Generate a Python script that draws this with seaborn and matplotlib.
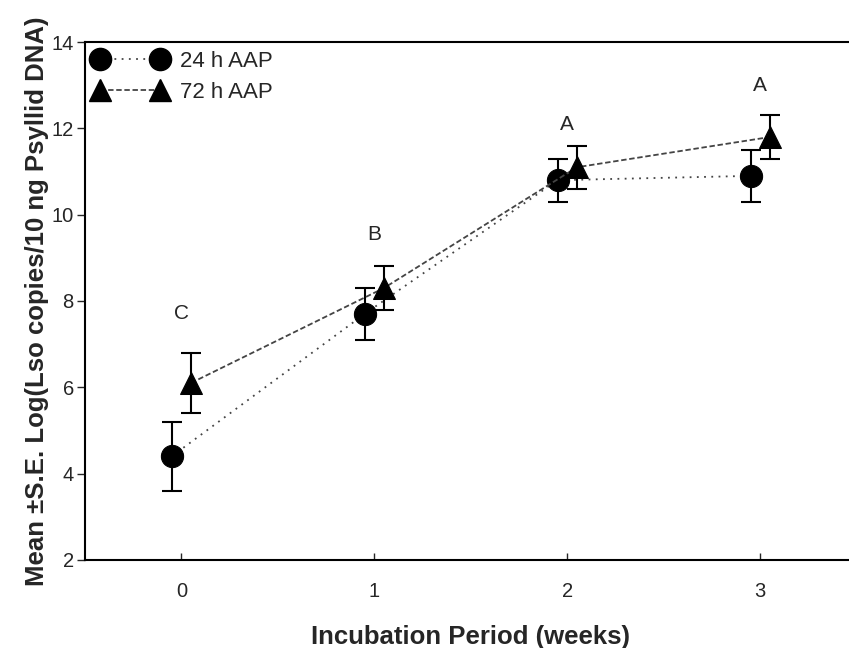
import numpy as np
import pandas as pd
import matplotlib
matplotlib.use("Agg")
import matplotlib.pyplot as plt
import seaborn as sns

# data
weeks = [0, 1, 2, 3]
aap24_mean = [4.4, 7.7, 10.8, 10.9]
aap24_se = [0.8, 0.6, 0.5, 0.6]
aap72_mean = [6.1, 8.3, 11.1, 11.8]
aap72_se = [0.7, 0.5, 0.5, 0.5]
letters = ["C", "B", "A", "A"]
letter_y = [7.7, 9.55, 12.1, 13.0]

sns.set_theme(style="white")
plt.rcParams['font.family'] = ['Liberation Sans', 'DejaVu Sans']

shift = 0.05
df = pd.DataFrame({
    'week': np.r_[np.array(weeks) - shift, np.array(weeks) + shift],
    'value': aap24_mean + aap72_mean,
    'se': aap24_se + aap72_se,
    'group': ['24 h AAP'] * 4 + ['72 h AAP'] * 4,
})

fig = plt.figure(figsize=(8.49, 6.48), dpi=100)
ax = fig.add_axes([0.100, 0.136, 0.909, 0.799])

sns.lineplot(data=df, x='week', y='value', style='group',
             markers={'24 h AAP': 'o', '72 h AAP': '^'},
             dashes={'24 h AAP': (1, 3), '72 h AAP': (3, 1.5)},
             color='#444444', markersize=16, markerfacecolor='black',
             markeredgecolor='black', linewidth=1.3, ax=ax, legend=False)

for g, sub in df.groupby('group'):
    ax.errorbar(sub['week'], sub['value'], yerr=sub['se'], fmt='none',
                ecolor='black', elinewidth=1.5, capsize=7, capthick=1.5, zorder=1)

for w, t, ly in zip(weeks, letters, letter_y):
    ax.text(w, ly, t, ha='center', va='center', fontsize=15)

# legend: marker - line - marker
h1, = ax.plot([], [], color='#444444', ls=(0, (1, 3)), marker='o', ms=16,
              mfc='black', mec='black', lw=1.3)
h2, = ax.plot([], [], color='#444444', ls=(0, (3, 1.5)), marker='^', ms=16,
              mfc='black', mec='black', lw=1.3)
ax.legend([h1, h2], ['24 h AAP', '72 h AAP'], loc='upper left', numpoints=2,
          frameon=False, fontsize=16, handlelength=3.3, handletextpad=0.6,
          borderaxespad=0.0, labelspacing=0.45, bbox_to_anchor=(0.0, 1.0))

ax.set_xlim(-0.5, 3.5)
ax.set_ylim(2, 14)
ax.set_xticks(weeks)
ax.set_yticks([2, 4, 6, 8, 10, 12, 14])
ax.tick_params(axis='x', direction='in', length=5, width=1, labelsize=14.5, pad=16,
               bottom=True)
ax.tick_params(axis='y', direction='out', length=6, width=1, labelsize=14.5, pad=2,
               left=True)

for s in ['left', 'bottom', 'top']:
    ax.spines[s].set_linewidth(1.5)
    ax.spines[s].set_color('black')
ax.spines['right'].set_visible(False)

ax.set_xlabel('Incubation Period (weeks)', fontsize=18.5, fontweight='bold', labelpad=17)
ax.set_ylabel('Mean \u00b1S.E. Log(Lso copies/10 ng Psyllid DNA)', fontsize=18.5,
              fontweight='bold', labelpad=2)

fig.savefig('out.png', dpi=100)
